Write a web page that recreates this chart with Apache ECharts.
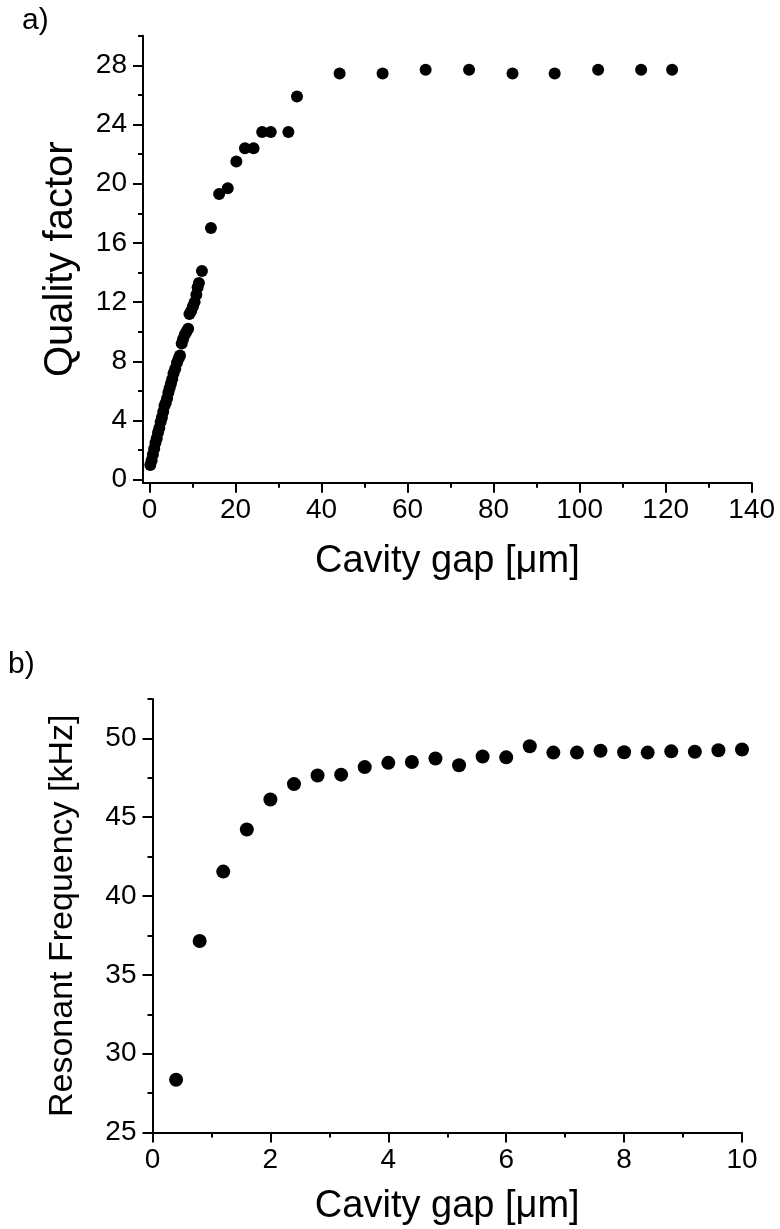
<!DOCTYPE html>
<html>
<head>
<meta charset="utf-8">
<script src="https://cdn.jsdelivr.net/npm/echarts@6/dist/echarts.min.js"></script>
<style>
  html, body { margin: 0; padding: 0; background: #fff; }
  #chart { width: 780px; height: 1229px; }
</style>
</head>
<body>
<div id="chart"></div>
<script>
// Panel a) quality factor versus cavity gap
const qGap = [0.2, 0.5, 0.8, 1.1, 1.4, 1.7, 2.0, 2.3, 2.6, 2.9, 3.2, 3.5, 3.8, 4.1, 4.4, 4.7, 5.0, 5.3, 5.6, 6.0,
  6.4, 6.8, 7.1, 7.5, 7.8, 8.2, 8.6, 9.0, 9.3, 9.7, 10.1, 10.5, 10.9, 11.2, 11.5, 12.2,
  14.3, 16.2, 18.2, 20.2, 22.2, 24.2, 26.2, 28.2, 32.3, 34.3,
  44.2, 54.2, 64.2, 74.3, 84.4, 94.2, 104.3, 114.3, 121.5];
const qValue = [1.0, 1.3, 1.7, 2.1, 2.5, 2.8, 3.2, 3.5, 3.9, 4.2, 4.6, 5.0, 5.2, 5.5, 5.9, 6.2, 6.5, 6.8, 7.2, 7.5,
  7.9, 8.2, 8.4, 9.2, 9.5, 9.8, 10.0, 10.2, 11.2, 11.4, 11.7, 12.0, 12.5, 13.0, 13.3, 14.1,
  17.0, 19.3, 19.7, 21.5, 22.4, 22.4, 23.5, 23.5, 23.5, 25.9,
  27.45, 27.45, 27.7, 27.7, 27.45, 27.45, 27.7, 27.7, 27.7];
const qGapTicks = [0, 20, 40, 60, 80, 100, 120, 140];
const qGapMinorTicks = [10, 30, 50, 70, 90, 110, 130];
const qTicks = [0, 4, 8, 12, 16, 20, 24, 28];
const qMinorTicks = [2, 6, 10, 14, 18, 22, 26, 30];

// Panel b) resonant frequency versus cavity gap
const fGap = [0.4, 0.8, 1.2, 1.6, 2.0, 2.4, 2.8, 3.2, 3.6, 4.0, 4.4, 4.8, 5.2, 5.6, 6.0, 6.4, 6.8, 7.2, 7.6, 8.0,
  8.4, 8.8, 9.2, 9.6, 10.0];
const fValue = [28.35, 37.15, 41.55, 44.22, 46.12, 47.1, 47.65, 47.7, 48.18, 48.45, 48.5, 48.73, 48.3, 48.85, 48.8,
  49.5, 49.1, 49.1, 49.22, 49.12, 49.1, 49.18, 49.15, 49.25, 49.3];
const fGapTicks = [0, 2, 4, 6, 8, 10];
const fGapMinorTicks = [1, 3, 5, 7, 9];
const fTicks = [25, 30, 35, 40, 45, 50];
const fMinorTicks = [27.5, 32.5, 37.5, 42.5, 47.5, 52.5];

const FONT = '"Liberation Sans", Arial, sans-serif';
const INK = '#000';
const TICK_FONT = 28;

function pairs(xs, ys) { return xs.map((x, i) => [x, ys[i]]); }

function majorAxis(dim, gridIndex, min, max, ticks, labelMargin, name, nameSize, nameGap) {
  return {
    type: 'value', gridIndex, min, max,
    position: dim === 'x' ? 'bottom' : 'left',
    axisLine: { show: true, onZero: false, lineStyle: { color: INK, width: 2 } },
    axisTick: { show: true, inside: false, length: 10, customValues: ticks, lineStyle: { color: INK, width: 2 } },
    axisLabel: { show: true, customValues: ticks, color: INK, fontSize: TICK_FONT, fontFamily: FONT, margin: labelMargin },
    splitLine: { show: false },
    name, nameGap, nameLocation: 'middle',
    nameTextStyle: { color: INK, fontSize: nameSize, fontFamily: FONT }
  };
}

function minorAxis(dim, gridIndex, min, max, ticks) {
  return {
    type: 'value', gridIndex, min, max,
    position: dim === 'x' ? 'bottom' : 'left',
    axisLine: { show: false, onZero: false },
    axisTick: { show: true, inside: false, length: 5, customValues: ticks, lineStyle: { color: INK, width: 2 } },
    axisLabel: { show: false },
    splitLine: { show: false }
  };
}

const chart = echarts.init(document.getElementById('chart'), null, { renderer: 'canvas' });

chart.setOption({
  backgroundColor: '#fff',
  animation: false,
  grid: [
    { left: 143, top: 35.7, width: 608.7, height: 447 },
    { left: 152.5, top: 699, width: 589.5, height: 433.5 }
  ],
  xAxis: [
    majorAxis('x', 0, -1.5, 140, qGapTicks, 14, 'Cavity gap [\u03bcm]', 38, 60),
    minorAxis('x', 0, -1.5, 140, qGapMinorTicks),
    majorAxis('x', 1, 0, 10, fGapTicks, 14, 'Cavity gap [\u03bcm]', 38, 55),
    minorAxis('x', 1, 0, 10, fGapMinorTicks)
  ],
  yAxis: [
    majorAxis('y', 0, -0.2, 30, qTicks, 16, 'Quality factor', 40, 62),
    minorAxis('y', 0, -0.2, 30, qMinorTicks),
    majorAxis('y', 1, 25, 52.5, fTicks, 16, 'Resonant Frequency [kHz]', 34, 73),
    minorAxis('y', 1, 25, 52.5, fMinorTicks)
  ],
  series: [
    {
      type: 'scatter', xAxisIndex: 0, yAxisIndex: 0,
      symbol: 'circle', symbolSize: 12,
      itemStyle: { color: INK, opacity: 1 },
      data: pairs(qGap, qValue)
    },
    {
      type: 'scatter', xAxisIndex: 2, yAxisIndex: 2,
      symbol: 'circle', symbolSize: 14,
      itemStyle: { color: INK, opacity: 1 },
      clip: false,
      data: pairs(fGap, fValue)
    }
  ],
  graphic: [
    { type: 'text', left: 22, top: 6, style: { text: 'a)', fill: INK, fontSize: 30, fontFamily: FONT } },
    { type: 'text', left: 8, top: 650, style: { text: 'b)', fill: INK, fontSize: 30, fontFamily: FONT } }
  ]
});
</script>
</body>
</html>
